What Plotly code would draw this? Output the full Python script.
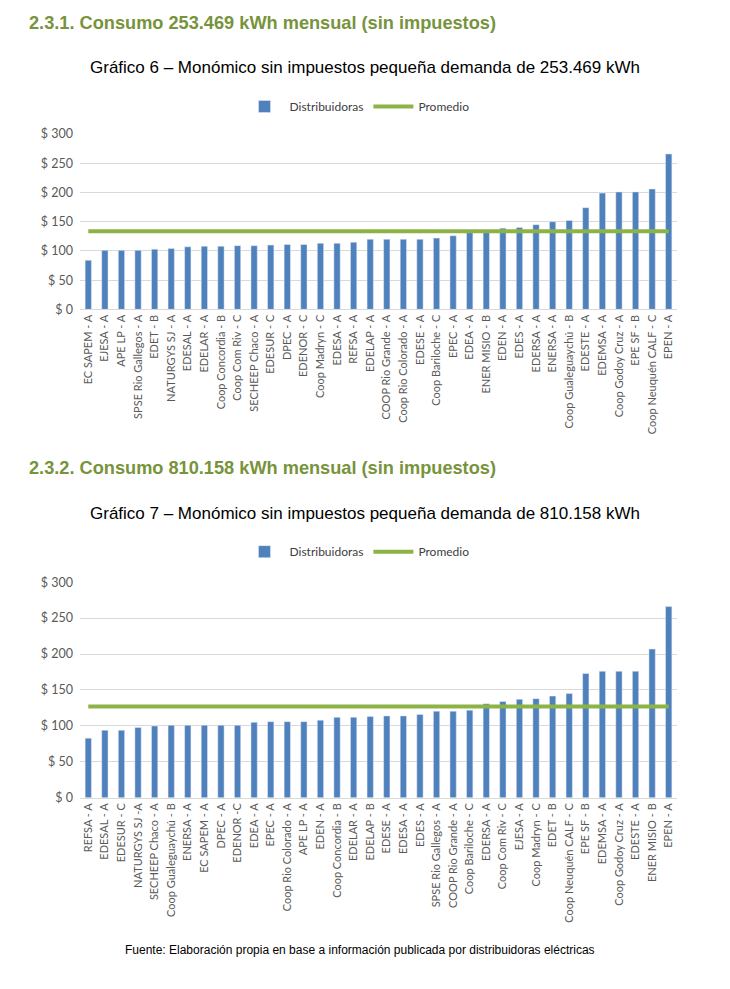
import plotly.graph_objects as go

W, H = 730, 989

# ---- Data: Gráfico 6 (253.469 kWh) ----
cats1 = ["EC SAPEM - A", "EJESA - A", "APE LP - A", "SPSE Rio Gallegos - A", "EDET - B",
         "NATURGYS SJ - A", "EDESAL - A", "EDELAR - A", "Coop Concordia - B", "Coop Com Riv - C",
         "SECHEEP Chaco - A", "EDESUR - C", "DPEC - A", "EDENOR - C", "Coop Madryn - C",
         "EDESA - A", "REFSA - A", "EDELAP - A", "COOP Rio Grande - A", "Coop Rio Colorado - A",
         "EDESE - A", "Coop Bariloche - C", "EPEC - A", "EDEA - A", "ENER MISIO - B",
         "EDEN - A", "EDES - A", "EDERSA - A", "ENERSA - A", "Coop Gualeguaychú - B",
         "EDESTE - A", "EDEMSA - A", "Coop Godoy Cruz - A", "EPE SF - B", "Coop Neuquén CALF - C",
         "EPEN - A"]
vals1 = [84, 101, 101, 101, 103, 104, 107, 108, 108, 109, 109, 110, 111, 111, 113, 113, 115,
         120, 120, 120, 120, 122, 126, 132, 132, 139, 140, 145, 150, 152, 174, 199, 201, 201,
         206, 266]
avg1 = 133.5

# ---- Data: Gráfico 7 (810.158 kWh) ----
cats2 = ["REFSA - A", "EDESAL - A", "EDESUR - C", "NATURGYS SJ -A", "SECHEEP Chaco - A",
         "Coop Gualeguaychú - B", "ENERSA - A", "EC SAPEM - A", "DPEC - A", "EDENOR -C",
         "EDEA - A", "EPEC - A", "Coop Rio Colorado - A", "APE LP - A", "EDEN - A",
         "Coop Concordia - B", "EDELAR - A", "EDELAP - B", "EDESE - A", "EDESA - A",
         "EDES - A", "SPSE Rio Gallegos - A", "COOP Rio Grande - A", "Coop Bariloche - C",
         "EDERSA - A", "Coop Com Riv - C", "EJESA - A", "Coop Madryn - C", "EDET - B",
         "Coop Neuquén CALF - C", "EPE SF - B", "EDEMSA - A", "Coop Godoy Cruz - A",
         "EDESTE - A", "ENER MISIO - B", "EPEN - A"]
vals2 = [83, 94, 94, 98, 100, 101, 101, 101, 101, 101, 105, 106, 106, 106, 108, 112, 112,
         113, 114, 114, 116, 120.5, 120.5, 122, 131, 134, 137, 138, 141.5, 145, 173, 176, 176,
         176, 207, 266]
avg2 = 127

yticks = [0, 50, 100, 150, 200, 250, 300]
ytick_text = ["$ " + str(v) for v in yticks]

BAR = "#4F81BD"
AVG = "#8DB346"
GREEN_HEAD = "#77933C"
SANS = "Lato, Open Sans, sans-serif"
ARIAL = "Liberation Sans, Arial, sans-serif"
AXFONT = dict(family=SANS, size=12.5, color="#595959")

def py(p):
    return 1 - p / H

def px(p):
    return p / W

fig = go.Figure()

fig.add_trace(go.Bar(x=cats1, y=vals1, name="Distribuidoras", marker_color=BAR,
                     xaxis="x", yaxis="y", legend="legend"))
fig.add_trace(go.Scatter(x=cats1, y=[avg1] * len(cats1), name="Promedio", mode="lines",
                         line=dict(color=AVG, width=4), xaxis="x", yaxis="y", legend="legend"))
fig.add_trace(go.Bar(x=cats2, y=vals2, name="Distribuidoras", marker_color=BAR,
                     xaxis="x2", yaxis="y2", legend="legend2"))
fig.add_trace(go.Scatter(x=cats2, y=[avg2] * len(cats2), name="Promedio", mode="lines",
                         line=dict(color=AVG, width=4), xaxis="x2", yaxis="y2", legend="legend2"))

xcommon = dict(tickangle=-90, tickfont=dict(family=SANS, size=11, color="#595959"),
               showgrid=False, showline=True, linecolor="#D9D9D9", ticks="", fixedrange=True)
ycommon = dict(range=[0, 300], tickvals=yticks, ticktext=ytick_text, tickfont=AXFONT,
               showgrid=True, gridcolor="#D9D9D9", gridwidth=1, zeroline=False,
               showline=False, ticks="", fixedrange=True, ticklabelstandoff=6)

legfont = dict(family=SANS, size=12, color="#404040")

fig.update_layout(
    width=W, height=H,
    margin=dict(l=0, r=0, t=0, b=0),
    paper_bgcolor="white", plot_bgcolor="white",
    bargap=0.62,
    xaxis=dict(domain=[px(80), px(677)], anchor="y", **xcommon),
    yaxis=dict(domain=[py(306), py(128)], anchor="x", **ycommon),
    xaxis2=dict(domain=[px(80), px(677)], anchor="y2", **xcommon),
    yaxis2=dict(domain=[py(802), py(583)], anchor="x2", **ycommon),
    legend=dict(orientation="h", x=px(357), xanchor="center", y=py(100), yanchor="middle",
                font=legfont, bgcolor="rgba(0,0,0,0)", itemwidth=40),
    legend2=dict(orientation="h", x=px(357), xanchor="center", y=py(552), yanchor="middle",
                 font=legfont, bgcolor="rgba(0,0,0,0)", itemwidth=40),
    showlegend=True,
)

annotations = [
    dict(text="<b>2.3.1. Consumo 253.469 kWh mensual (sin impuestos)</b>", x=px(27), y=py(15),
         xanchor="left", yanchor="middle", font=dict(family=ARIAL, size=18.2, color=GREEN_HEAD)),
    dict(text="Gráfico 6 – Monómico sin impuestos pequeña demanda de 253.469 kWh",
         x=px(365), y=py(60), xanchor="center", yanchor="middle",
         font=dict(family=ARIAL, size=17, color="#000000")),
    dict(text="<b>2.3.2. Consumo 810.158 kWh mensual (sin impuestos)</b>", x=px(27), y=py(467),
         xanchor="left", yanchor="middle", font=dict(family=ARIAL, size=18.2, color=GREEN_HEAD)),
    dict(text="Gráfico 7 – Monómico sin impuestos pequeña demanda de 810.158 kWh",
         x=px(365), y=py(513), xanchor="center", yanchor="middle",
         font=dict(family=ARIAL, size=17, color="#000000")),
    dict(text="Fuente: Elaboración propia en base a información publicada por distribuidoras eléctricas",
         x=px(360), y=py(956), xanchor="center", yanchor="middle",
         font=dict(family=ARIAL, size=12, color="#000000")),
]
for a in annotations:
    a.update(xref="paper", yref="paper", showarrow=False)
fig.update_layout(annotations=annotations)

fig.write_html("out.html", config={"displayModeBar": False},
               post_script="document.body.style.margin='0';document.body.style.overflow='hidden';")
